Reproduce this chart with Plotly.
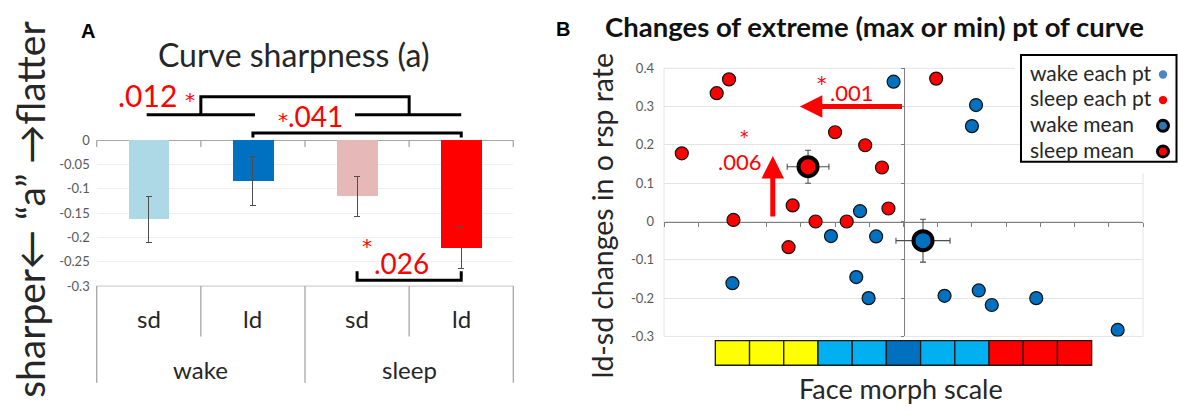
import plotly.graph_objects as go

W, H = 1178, 412
FONT = "Lato"
STAR_FONT = "DejaVu Sans"
INK = "#262626"
GRAY = "#595959"

# ---------------- Panel A data ----------------
a_groups = ["wake", "wake", "sleep", "sleep"]
a_conds = ["sd", "ld", "sd", "ld"]
a_vals = [-0.163, -0.084, -0.115, -0.221]
a_errs = [0.047, 0.050, 0.041, 0.042]
a_colors = ["#ADD8E6", "#0070C0", "#E6B9B8", "#FF0000"]
a_tickvals = [0, -0.05, -0.1, -0.15, -0.2, -0.25, -0.3]
a_ticktext = ["0", "-0.05", "-0.1", "-0.15", "-0.2", "-0.25", "-0.3"]
a_pvals = [".012", ".041", ".026"]

# ---------------- Panel B data ----------------
wake_x = [-0.29, -1.27, -2.12, -0.80, -5.00, -1.38, -1.02, 2.12, 2.00, 1.20, 2.20, 2.58, 3.88, 6.26]
wake_y = [0.365, 0.027, -0.038, -0.039, -0.161, -0.145, -0.200, 0.304, 0.249, -0.194, -0.180, -0.218, -0.200, -0.283]
sleep_x = [-5.10, -5.46, -6.48, -4.97, -2.00, -1.12, -0.63, -0.44, -3.24, -2.57, -1.66, -3.36, 0.955]
sleep_y = [0.371, 0.335, 0.178, 0.004, 0.233, 0.199, 0.141, 0.034, 0.042, 0.000, 0.000, -0.067, 0.373]
wake_mean_x, wake_mean_y = [0.57], [-0.050]
wake_mean_ex, wake_mean_ey = [0.79], [0.056]
sleep_mean_x, sleep_mean_y = [-2.79], [0.143]
sleep_mean_ex, sleep_mean_ey = [0.61], [0.043]
b_tickvals = [0.4, 0.3, 0.2, 0.1, 0, -0.1, -0.2, -0.3]
b_ticktext = ["0.4", "0.3", "0.2", "0.1", "0", "-0.1", "-0.2", "-0.3"]
morph_colors = ["#FFFF00"] * 3 + ["#00B0F0"] * 2 + ["#0070C0"] + ["#00B0F0"] * 2 + ["#FF0000"] * 3
b_pvals = [".001", ".006"]
legend_labels = ["wake each pt", "sleep each pt", "wake mean", "sleep mean"]
legend_fill = ["#4A86C8", "#FF0000", "#2E75B6", "#FF0000"]

# ---------------- geometry (pixels) ----------------
A_L, A_R, A_Y0, A_Y30 = 96.7, 513.3, 137.7, 289.3
A_TOP = 0.12
B_L, B_R, B_T, B_B = 664.0, 1143.0, 62.7, 341.7
B_XR = [-7, 7]
B_YR = [-0.3, 0.4]


def px(x):
    return x / W


def py(y):
    return 1 - y / H


a_cw = (A_R - A_L) / len(a_vals)
a_unit = (A_Y30 - A_Y0) / 0.3


def ay_px(v):
    return A_Y0 - v * a_unit


b_x0_px = B_L + (0 - B_XR[0]) / (B_XR[1] - B_XR[0]) * (B_R - B_L)
b_y0_px = B_B - (0 - B_YR[0]) / (B_YR[1] - B_YR[0]) * (B_B - B_T)


def note(x, y, text, size, color=INK, family=FONT, xref="paper", yref="paper", **kw):
    d = dict(x=x, y=y, xref=xref, yref=yref, text=text, showarrow=False,
             xanchor="center", yanchor="middle", font=dict(family=family, size=size, color=color))
    d.update(kw)
    return d


fig = go.Figure()

# ---------------- Panel A traces ----------------
fig.add_trace(go.Bar(
    x=list(range(len(a_vals))), y=a_vals, width=0.39,
    marker=dict(color=a_colors, line=dict(width=0)),
    error_y=dict(type="data", array=a_errs, color="#4D4D4D", thickness=1.1, width=3),
    xaxis="x", yaxis="y", hoverinfo="skip",
))

# ---------------- Panel B traces ----------------
fig.add_trace(go.Scatter(
    x=wake_x, y=wake_y, mode="markers", xaxis="x2", yaxis="y2",
    marker=dict(size=13, color="#0070C0", line=dict(color="#111111", width=1.2)),
    name="wake each pt",
))
fig.add_trace(go.Scatter(
    x=sleep_x, y=sleep_y, mode="markers", xaxis="x2", yaxis="y2",
    marker=dict(size=13, color="#FF0000", line=dict(color="#111111", width=1.2)),
    name="sleep each pt",
))
fig.add_trace(go.Scatter(
    x=wake_mean_x, y=wake_mean_y, mode="markers", xaxis="x2", yaxis="y2",
    marker=dict(size=19, color="#0070C0", line=dict(color="#000000", width=4)),
    error_x=dict(type="data", array=wake_mean_ex, color="#4D4D4D", thickness=1.1, width=3),
    error_y=dict(type="data", array=wake_mean_ey, color="#4D4D4D", thickness=1.1, width=3),
    name="wake mean",
))
fig.add_trace(go.Scatter(
    x=sleep_mean_x, y=sleep_mean_y, mode="markers", xaxis="x2", yaxis="y2",
    marker=dict(size=19, color="#FF0000", line=dict(color="#000000", width=4)),
    error_x=dict(type="data", array=sleep_mean_ex, color="#4D4D4D", thickness=1.1, width=3),
    error_y=dict(type="data", array=sleep_mean_ey, color="#4D4D4D", thickness=1.1, width=3),
    name="sleep mean",
))
# dummy trace to activate the vertical axis drawn through x = 0
fig.add_trace(go.Scatter(x=[None], y=[None], xaxis="x2", yaxis="y3", showlegend=False, hoverinfo="skip"))

shapes = []
annotations = []

# ---------------- Panel A decorations ----------------
shapes.append(dict(type="line", xref="paper", yref="paper", x0=px(A_L), x1=px(A_R),
                   y0=py(A_Y30), y1=py(A_Y30), line=dict(color="#D0D0D0", width=1.2)))
n = len(a_vals)
for b in range(n + 1):
    xb = px(A_L + b * a_cw)
    shapes.append(dict(type="line", xref="paper", yref="paper", x0=xb, x1=xb,
                       y0=py(A_Y0), y1=py(A_Y0 + 7), line=dict(color="#A6A6A6", width=1.3)))
    outer = (b % 2 == 0)
    shapes.append(dict(type="line", xref="paper", yref="paper", x0=xb, x1=xb,
                       y0=py(A_Y30), y1=py(390 if outer else 341.7),
                       line=dict(color="#A6A6A6", width=1.3)))

for i, c in enumerate(a_conds):
    annotations.append(note(i, py(323), c, 24, xref="x"))
for g0 in range(0, n, 2):
    annotations.append(note(g0 + 0.5, py(376), a_groups[g0], 24, xref="x"))

bk = dict(color="#000000", width=3)
shapes.append(dict(type="path", xref="x", yref="y", line=bk,
                   path="M0.5,0.0528 L0.5,0.0898 L2.5,0.0898 L2.5,0.0528"))
shapes.append(dict(type="line", xref="x", yref="y", x0=-0.02, x1=1.02, y0=0.0528, y1=0.0528, line=bk))
shapes.append(dict(type="line", xref="x", yref="y", x0=1.98, x1=3.0, y0=0.0528, y1=0.0528, line=bk))
shapes.append(dict(type="path", xref="x", yref="y", line=bk,
                   path="M1,0.006 L1,0.0152 L3,0.0152 L3,0.006"))
shapes.append(dict(type="path", xref="x", yref="y", line=bk,
                   path="M2,-0.2697 L2,-0.2881 L3,-0.2881 L3,-0.2697"))

RED = "#FF0000"
STAR = "<span style='font-family:DejaVu Sans;font-size:20px'>*</span>"
annotations += [
    note(0.075, 0.093, a_pvals[0] + " " + STAR, 30, RED, xref="x", yref="y"),
    note(1.553, 0.0499, STAR + a_pvals[1], 28, RED, xref="x", yref="y"),
    note(2.096, -0.2167, "*", 20, RED, family=STAR_FONT, xref="x", yref="y"),
    note(2.427, -0.2533, a_pvals[2], 28, RED, xref="x", yref="y"),
]

annotations += [
    note(px(88), py(24), "<b>A</b>", 20, "#000000", family="Liberation Sans"),
    note(px(293), py(48), "Curve sharpness (a)", 32),
    note(px(30), py(210), "sharper\u2190 \u201ca\u201d \u2192flatter", 39, textangle=-90),
]

# ---------------- Panel B decorations ----------------
shapes.append(dict(type="rect", xref="paper", yref="paper", x0=px(B_L), x1=px(B_R), y0=py(B_B), y1=py(B_T),
                   line=dict(color="#E4E4E4", width=1), layer="below"))
shapes.append(dict(type="rect", xref="paper", yref="paper", x0=px(1015), x1=1, y0=py(172), y1=py(44),
                   line=dict(width=0), fillcolor="#FFFFFF", layer="between"))
half = len(morph_colors) / 2
for k, col in enumerate(morph_colors):
    shapes.append(dict(type="rect", xref="x2", yref="paper", x0=k - half, x1=k + 1 - half,
                       y0=py(371.7), y1=py(346), fillcolor=col, line=dict(color="#1A1A1A", width=1.3),
                       layer="above"))
shapes.append(dict(type="rect", xref="paper", yref="paper", x0=px(1021), x1=px(1176.5), y0=py(160), y1=py(49),
                   line=dict(color="#000000", width=2), fillcolor="#FFFFFF", layer="above"))
leg_y = [66.7, 93.3, 120.0, 146.7]
for k, lab in enumerate(legend_labels):
    annotations.append(note(px(1028), py(leg_y[k]), lab, 21, xanchor="left"))
    if k < 2:
        r, lw, lc = 4.2, 0, legend_fill[k]
    else:
        r, lw, lc = 5.5, 3, "#000000"
    shapes.append(dict(type="circle", xref="paper", yref="paper", xsizemode="pixel", ysizemode="pixel",
                       xanchor=px(1163), yanchor=py(leg_y[k] + 2.5), x0=-r, x1=r, y0=-r, y1=r,
                       fillcolor=legend_fill[k], line=dict(color=lc, width=lw), layer="above"))

annotations += [
    dict(x=-3.03, y=0.3, ax=0, ay=0.3, xref="x2", yref="y2", axref="x2", ayref="y2", text="",
         showarrow=True, arrowhead=2, arrowsize=0.9, arrowwidth=5, arrowcolor=RED, standoff=0, startstandoff=0),
    dict(x=-3.82, y=0.171, ax=-3.82, ay=0.009, xref="x2", yref="y2", axref="x2", ayref="y2", text="",
         showarrow=True, arrowhead=2, arrowsize=0.9, arrowwidth=5, arrowcolor=RED, standoff=0, startstandoff=0),
    note(-1.51, 0.338, b_pvals[0], 22, RED, xref="x2", yref="y2"),
    note(-2.377, 0.3627, "*", 19, RED, family=STAR_FONT, xref="x2", yref="y2"),
    note(-4.78, 0.157, b_pvals[1], 22, RED, xref="x2", yref="y2"),
    note(-4.66, 0.2198, "*", 17, RED, family=STAR_FONT, xref="x2", yref="y2"),
]

annotations += [
    note(px(562.7), py(21.7), "<b>B</b>", 20, "#000000", family="Liberation Sans"),
    note(px(603), py(19), "<b>Changes of extreme (max or min) pt of curve</b>", 27.5, "#111111", xanchor="left"),
    note(px(601.7), py(216), "ld-sd changes in o rsp rate", 28.4, textangle=-90),
    note(px(901), py(396), "Face morph scale", 27),
]

fig.update_layout(
    width=W, height=H, margin=dict(l=0, r=0, t=0, b=0),
    paper_bgcolor="#FFFFFF", plot_bgcolor="rgba(0,0,0,0)",
    showlegend=False, bargap=0,
    font=dict(family=FONT, color=INK),
    xaxis=dict(domain=[px(A_L), px(A_R)], range=[-0.5, n - 0.5], visible=False, fixedrange=True),
    yaxis=dict(domain=[py(ay_px(-0.3002)), py(ay_px(A_TOP))], range=[-0.3002, A_TOP], anchor="x",
               tickvals=a_tickvals, ticktext=a_ticktext, ticks="", ticklabelstandoff=6,
               tickfont=dict(family=FONT, size=13, color=GRAY),
               showgrid=True, gridcolor="#EFEFEF", gridwidth=1,
               zeroline=True, zerolinecolor="#A6A6A6", zerolinewidth=1.3, showline=False),
    xaxis2=dict(domain=[px(B_L), px(B_R)], range=B_XR, anchor="free", position=py(b_y0_px),
                tick0=0, dtick=1, ticks="outside", ticklen=4, tickcolor="#808080", tickwidth=1,
                showticklabels=False, showgrid=False, zeroline=False,
                showline=True, linecolor="#808080", linewidth=1, layer="below traces"),
    yaxis2=dict(domain=[py(B_B), py(B_T)], range=B_YR, anchor="x2",
                tickvals=b_tickvals, ticktext=b_ticktext, ticks="", ticklabelstandoff=9,
                tickfont=dict(family=FONT, size=13, color=GRAY),
                showgrid=True, gridcolor="#E4E4E4", gridwidth=1, zeroline=False, showline=False),
    yaxis3=dict(overlaying="y2", range=B_YR, anchor="free", position=px(b_x0_px), side="left",
                tickvals=b_tickvals, ticks="outside", ticklen=3, tickcolor="#808080",
                showticklabels=False, showgrid=False, zeroline=False,
                showline=True, linecolor="#808080", linewidth=1, layer="below traces"),
    shapes=shapes, annotations=annotations,
)

fig.write_html("out.html", config={"displayModeBar": False},
               post_script="document.body.style.margin='0';document.body.style.padding='0';")
